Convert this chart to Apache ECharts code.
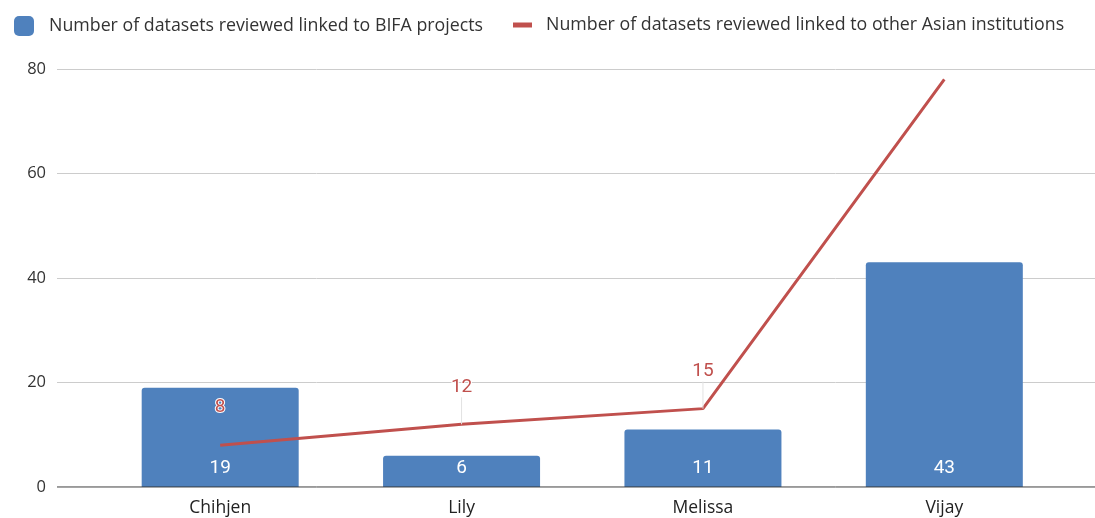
<!DOCTYPE html>
<html><head><meta charset="utf-8">
<script src="https://cdn.jsdelivr.net/npm/echarts@6/dist/echarts.min.js"></script>
<style>html,body{margin:0;padding:0;background:#fff}#c{width:1095px;height:518px}</style>
</head><body><div id="c"></div>
<script>
const categories = ['Chihjen', 'Lily', 'Melissa', 'Vijay'];
const bifaValues = [19, 6, 11, 43];
const asianValues = [8, 12, 15, 78];
const yTicks = [0, 20, 40, 60, 80];
const barName = 'Number of datasets reviewed linked to BIFA projects';
const lineName = 'Number of datasets reviewed linked to other Asian institutions';

const chart = echarts.init(document.getElementById('c'));
const F = '"Open Sans", sans-serif';
const lineData = asianValues.map((v, i) => {
  if (i === asianValues.length - 1) return { value: v, label: { show: false }, labelLine: { show: false } };
  if (i === 0) return { value: v, labelLine: { show: false } };
  return v;
});
chart.setOption({
  animation: false,
  legend: [
    { data: [barName], left: 9, top: 11, itemWidth: 20, itemHeight: 20, icon: 'roundRect', itemGap: 0,
      textStyle: { fontFamily: F, fontSize: 17.8, color: '#333', padding: [0,0,0,10] } },
    { data: [lineName], left: 508, top: 11, itemWidth: 19, itemHeight: 5, icon: 'rect',
      textStyle: { fontFamily: F, fontSize: 17.8, color: '#333', padding: [0,0,0,9] } }
  ],
  grid: [
    { left: 57, right: 0, top: 69, bottom: 31 },
    { left: 99.5, right: 30, top: 69, bottom: 31 }
  ],
  xAxis: [
    { gridIndex: 0, type: 'value', min: 0, max: 1, show: true,
      axisLine: { show: false }, axisTick: { show: false }, axisLabel: { show: false }, splitLine: { show: false } },
    { gridIndex: 1, type: 'category', data: categories,
      axisLine: { show: false }, axisTick: { show: false },
      axisLabel: { fontFamily: F, fontSize: 17.5, color: '#222', margin: 12 } }
  ],
  yAxis: [
    { gridIndex: 0, type: 'value', min: yTicks[0], max: yTicks[yTicks.length-1], interval: 20,
      axisLine: { show: false }, axisTick: { show: false },
      axisLabel: { fontFamily: F, fontSize: 16.5, color: '#333', margin: 11 },
      splitLine: { lineStyle: { color: '#cccccc', width: 1 } } },
    { gridIndex: 1, type: 'value', min: yTicks[0], max: yTicks[yTicks.length-1], interval: 20, show: false,
      splitLine: { show: false } }
  ],
  series: [
    { type: 'line', xAxisIndex: 0, yAxisIndex: 0, data: [[0,0],[1,0]], symbol: 'none', silent: true,
      lineStyle: { color: '#333', width: 1 }, z: 5 },
    { name: barName, type: 'bar', xAxisIndex: 1, yAxisIndex: 1, data: bifaValues, barWidth: 157,
      itemStyle: { color: '#4f81bd', borderRadius: [3,3,0,0] },
      label: { show: true, position: 'insideBottom', distance: 9, color: '#fff', fontFamily: 'Roboto', fontSize: 19 },
      z: 2 },
    { name: lineName, type: 'line', xAxisIndex: 1, yAxisIndex: 1,
      data: lineData,
      symbol: 'circle', symbolSize: 0.01, showSymbol: true,
      lineStyle: { color: '#c0504d', width: 3 }, itemStyle: { color: '#c0504d' },
      label: { show: true, position: 'top', distance: 5, color: '#c0504d', fontFamily: 'Roboto', fontSize: 19,
        textBorderColor: '#fff', textBorderWidth: 2 },
      labelLayout: { dy: -23 },
      labelLine: { show: true, lineStyle: { color: '#e2e2e2', width: 1 } },
      z: 10 }
  ]
});
</script></body></html>
